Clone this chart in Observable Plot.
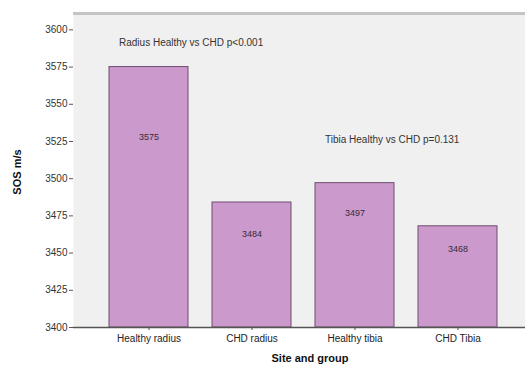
<!DOCTYPE html>
<html>
<head>
<meta charset="utf-8">
<script src="https://cdn.jsdelivr.net/npm/d3@7"></script>
<script src="https://cdn.jsdelivr.net/npm/@observablehq/plot@0.6"></script>
<style>
  html, body { margin: 0; padding: 0; background: #ffffff; }
  #chart svg { display: block; }
</style>
</head>
<body>
<div id="chart"></div>
<script>
const categories = ["Healthy radius", "CHD radius", "Healthy tibia", "CHD Tibia"];
const values = [3575, 3484, 3497, 3468];
const labelAt = [3528, 3463, 3477, 3453];
const yTicks = [3400, 3425, 3450, 3475, 3500, 3525, 3550, 3575, 3600];
const notes = ["Radius Healthy vs CHD p<0.001", "Tibia Healthy vs CHD p=0.131"];
const noteCat = ["Healthy radius", "Healthy tibia"];
const noteAt = [3591, 3526];

const bars = categories.map((c, i) => ({cat: c, value: values[i], labelY: labelAt[i]}));
const ann = notes.map((t, i) => ({text: t, cat: noteCat[i], y: noteAt[i]}));

const font = "'Liberation Sans', Arial, sans-serif";

const chart = Plot.plot({
  width: 525,
  height: 369,
  marginLeft: 73,
  marginTop: 13,
  marginBottom: 42,
  marginRight: 0,
  style: {fontFamily: font, fontSize: "10px", color: "#222", background: "#ffffff"},
  x: {domain: categories, range: [73, 533], paddingInner: 0.237, paddingOuter: 0.34, label: null},
  y: {domain: [3400, 3611], label: null},
  marks: [
    Plot.frame({fill: "#f0f0f0", stroke: null}),
    Plot.ruleY([3611], {stroke: "#c4c4c4", strokeWidth: 3}),
    Plot.barY(bars, {x: "cat", y1: 3400, y2: "value", fill: "#cc99cc", stroke: "#6f4d6f", strokeWidth: 1}),
    Plot.text(bars, {x: "cat", y: "labelY", text: d => String(d.value), fill: "#3a2a3a", fontSize: 9}),
    Plot.text(ann, {x: "cat", y: "y", text: "text", textAnchor: "start", dx: -30, fill: "#333", fontSize: 10}),
    Plot.axisY({ticks: yTicks, tickFormat: "d", tickSize: 4, tickPadding: 2, label: null, stroke: "#555", fill: "#333", fontSize: 10}),
    Plot.axisX({tickSize: 3, tickPadding: 4, label: null, stroke: "#555", fill: "#222", fontSize: 10}),
    Plot.ruleY([3400], {stroke: "#555", strokeWidth: 1.5}),
    Plot.ruleX([0], {x: () => 73, y1: 3400, y2: 3611, stroke: "#777", strokeWidth: 1})
  ]
});

const svg = d3.select(chart);
svg.append("text")
  .attr("x", 310).attr("y", 362)
  .attr("text-anchor", "middle")
  .attr("font-family", font).attr("font-size", 11).attr("font-weight", "bold").attr("fill", "#111")
  .text("Site and group");
svg.append("text")
  .attr("transform", "translate(21,172) rotate(-90)")
  .attr("text-anchor", "middle")
  .attr("font-family", font).attr("font-size", 11).attr("font-weight", "bold").attr("fill", "#111")
  .text("SOS m/s");

document.getElementById("chart").appendChild(chart);
</script>
</body>
</html>
